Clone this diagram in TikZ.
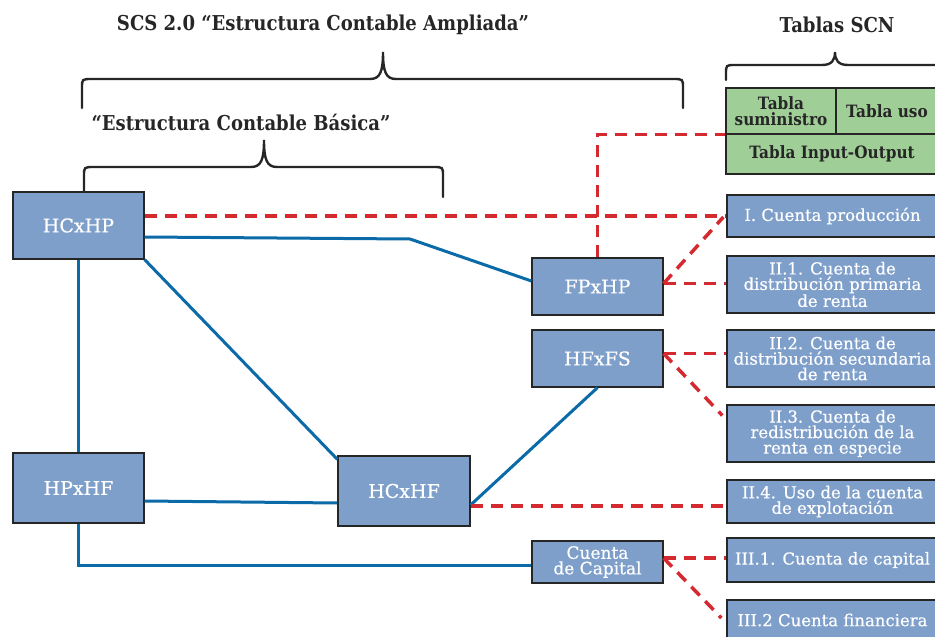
\documentclass[tikz,border=0pt]{standalone}
\usepackage{fontspec}
\setmainfont{DejaVu Serif}
\newfontfamily\headfont[FakeStretch=0.88]{DejaVu Serif}
\newfontfamily\tabfont[FakeStretch=0.9]{DejaVu Serif}
\newfontfamily\boxfont[FakeBold=0.5]{DejaVu Serif}
\usetikzlibrary{calc}
\definecolor{boxblue}{HTML}{7F9FCB}
\definecolor{linkblue}{HTML}{0B6AA8}
\definecolor{dashred}{HTML}{D42A2F}
\definecolor{tabgreen}{HTML}{A0CE97}
\definecolor{inkdark}{HTML}{262626}
\begin{document}
\begin{tikzpicture}[x=1pt,y=-1pt,
  acct/.style={draw=inkdark, line width=1.2pt, fill=boxblue, text=white, align=center, inner sep=0pt, font=\boxfont\fontsize{16.5}{15.5}\selectfont},
  bigacct/.style={acct, font=\boxfont\fontsize{19}{19}\selectfont},
  tabla/.style={draw=inkdark, line width=1.2pt, fill=tabgreen, text=inkdark, align=center, inner sep=0pt, font=\tabfont\bfseries\fontsize{17}{16.5}\selectfont},
  title/.style={text=inkdark, font=\headfont\bfseries\fontsize{20.5}{20}\selectfont, inner sep=0pt},
  link/.style={draw=linkblue, line width=3pt},
  dlink/.style={draw=dashred, line width=3.5pt, dash pattern=on 12pt off 8pt},
  brace/.style={draw=inkdark, line width=2.4pt, line cap=round}]
\useasboundingbox (0,0) rectangle (935,637);

% titles
\node[title] (tamp) at (323,25) {SCS 2.0 “Estructura Contable Ampliada”};
\node[title] (tscn) at (837,25) {Tablas SCN};
\node[title] (tbas) at (241,122) {“Estructura Contable Básica”};

% braces
\draw[brace] (82,108) -- (82,88) .. controls (82,79) .. (92,79) -- (370,79)
  .. controls (380,79) and (383,72) .. (383,52)
  .. controls (383,72) and (386,79) .. (396,79) -- (673,79)
  .. controls (683,79) .. (683,88) -- (683,108);
\draw[brace] (84,192) -- (84,176) .. controls (84,167) .. (94,167) -- (251,167)
  .. controls (261,167) and (264,160) .. (264,140)
  .. controls (264,160) and (267,167) .. (277,167) -- (433,167)
  .. controls (443,167) .. (443,176) -- (443,197);
\draw[brace] (726,80) -- (726,74) .. controls (726,65) .. (735,65) -- (822,65)
  .. controls (832,65) and (835,60) .. (835,52)
  .. controls (835,60) and (838,65) .. (848,65) -- (945,65);

% left structure
\node[bigacct, minimum width=131pt, minimum height=67pt] (hcxhp) at (78.5,225.5) {HCxHP};
\node[bigacct, minimum width=131pt, minimum height=70pt] (hpxhf) at (78.5,488) {HPxHF};
\node[bigacct, minimum width=132pt, minimum height=70pt] (hcxhf) at (404,491) {HCxHF};
\node[bigacct, minimum width=131pt, minimum height=57pt] (fpxhp) at (597.5,286.5) {FPxHP};
\node[bigacct, minimum width=131pt, minimum height=57pt] (hfxfs) at (597.5,358.5) {HFxFS};
\node[acct, minimum width=131pt, minimum height=42pt, font=\boxfont\fontsize{17}{15.5}\selectfont] (capital) at (597.5,562) {Cuenta\\de Capital};

% tables
\node[tabla, minimum width=110pt, minimum height=46pt] (tsum) at (781,111) {Tabla\\suministro};
\node[tabla, minimum width=102pt, minimum height=46pt] (tuso) at (887,111) {Tabla uso};
\node[tabla, minimum width=212pt, minimum height=40pt] (tio) at (832,154) {Tabla Input-Output};

% accounts
\node[acct, minimum width=211pt, minimum height=42pt] (ip) at (832.5,216) {I. Cuenta producción};
\node[acct, minimum width=211pt, minimum height=57pt] (ii1) at (832.5,284.5) {II.1. Cuenta de\\distribución primaria\\de renta};
\node[acct, minimum width=211pt, minimum height=57pt] (ii2) at (832.5,358.5) {II.2. Cuenta de\\distribución secundaria\\de renta};
\node[acct, minimum width=211pt, minimum height=57pt] (ii3) at (832.5,433.5) {II.3. Cuenta de\\redistribución de la\\renta en especie};
\node[acct, minimum width=211pt, minimum height=43pt] (ii4) at (832.5,501.5) {II.4. Uso de la cuenta\\de explotación};
\node[acct, minimum width=211pt, minimum height=44pt] (iii1) at (832.5,560) {III.1. Cuenta de capital};
\node[acct, minimum width=211pt, minimum height=40pt] (iii2) at (832.5,620) {III.2 Cuenta financiera};

% blue links
\coordinate (bend) at (410,239);
\draw[link] ($(hcxhp.east)+(0,11.5)$) -- (bend) -- ($(fpxhp.west)+(0,-5.5)$);
\draw[link] (hcxhp.south) -- (hpxhf.north);
\draw[link] (hcxhp.south east) -- ($(hcxhf.north west)+(0,4)$);
\draw[link] ($(hpxhf.east)+(0,13)$) -- ($(hcxhf.west)+(0,12)$);
\draw[link] (hpxhf.south) |- ($(capital.west)+(0,3)$);
\draw[link] ($(hcxhf.east)+(0,14)$) -- (hfxfs.south);

% red dashed links
\draw[dlink] (hcxhp.east |- ip.west) -- (ip.west);
\draw[dlink] (fpxhp.north) |- (tsum.south west);
\draw[dlink] ($(fpxhp.east)+(0,-3)$) -- ($(ip.west)+(-3,1)$);
\draw[dlink] ($(fpxhp.east)+(0,-3)$) -- ($(ii1.west)+(0,-1)$);
\draw[dlink] ($(hfxfs.east)+(0,-5)$) -- ($(ii2.west)+(0,-5)$);
\draw[dlink] ($(hfxfs.east)+(0,-5)$) -- ($(ii3.west)+(-4,-18)$);
\draw[dlink] ($(hcxhf.east)+(0,15)$) -- ($(ii4.west)+(0,4.5)$);
\draw[dlink] ($(capital.east)+(0,-4)$) -- ($(iii1.west)+(0,-2)$);
\draw[dlink] ($(capital.east)+(0,-4)$) -- ($(iii2.west)+(-5,-2)$);
\end{tikzpicture}
\end{document}
